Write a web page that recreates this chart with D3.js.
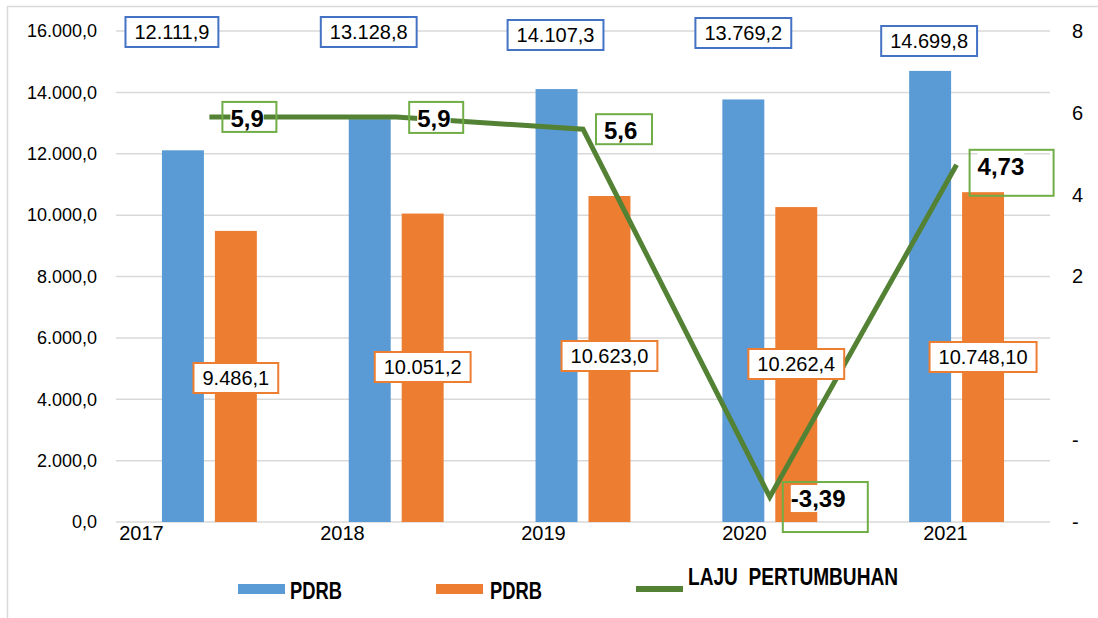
<!DOCTYPE html>
<html>
<head>
<meta charset="utf-8">
<script src="https://cdn.jsdelivr.net/npm/d3@7"></script>
<style>
  body { margin: 0; background: #fff; }
  svg { display: block; font-family: "Liberation Sans", Arial, sans-serif; }
</style>
</head>
<body>
<script>
// data
var years = ["2017", "2018", "2019", "2020", "2021"];
var pdrbA = [12111.9, 13128.8, 14107.3, 13769.2, 14699.8];
var pdrbB = [9486.1, 10051.2, 10623.0, 10262.4, 10748.10];
var growth = [5.9, 5.9, 5.6, -3.39, 4.73];
var pdrbALabels = ["12.111,9", "13.128,8", "14.107,3", "13.769,2", "14.699,8"];
var pdrbBLabels = ["9.486,1", "10.051,2", "10.623,0", "10.262,4", "10.748,10"];
var growthLabels = ["5,9", "5,9", "5,6", "-3,39", "4,73"];
var leftTicks = [0, 2000, 4000, 6000, 8000, 10000, 12000, 14000, 16000];
var rightTicks = [-4, -2, 0, 2, 4, 6, 8];
var rightTickLabels = ["-", "-", "", "2", "4", "6", "8"];
var legendNames = ["PDRB", "PDRB", "LAJU  PERTUMBUHAN"];

// label placement (hand placed in the original)
var pdrbALabelTop = [17, 17, 20, 18, 26];
var pdrbALabelShift = [-11, -1, -1, 0, -1];
var pdrbBLabelTop = [363, 352, 341, 349, 342];
var growthBoxSize = [[54, 30], [54, 31], [56, 30], [85, 50], [84, 46]];

var W = 1098, H = 618;
var blue = "#5B9BD5", orange = "#ED7D31", green = "#548235", greenBox = "#70AD47", blueBox = "#4472C4";

var svg = d3.select("body").append("svg")
	.attr("width", W)
	.attr("height", H);

// chart border (only top and left fall inside the frame)
svg.append("rect")
	.attr("x", 7.5).attr("y", 6.5)
	.attr("width", W).attr("height", H)
	.attr("fill", "none")
	.attr("stroke", "#D9D9D9")
	.attr("stroke-width", 1.5);

var x0 = d3.scaleBand().domain(years).range([116, 1050]);
var x1 = d3.scaleBand().domain(["a", "b"])
	.range([x0.bandwidth() * 0.246, x0.bandwidth() * 0.754])
	.paddingInner(0.2075);
var xLab = d3.scalePoint().domain(years).range([141, 945]);
var yL = d3.scaleLinear().domain([0, 16000]).range([522, 31]);
var yR = d3.scaleLinear().domain([-4, 8]).range([522, 31]);

var locale = d3.formatLocale({decimal: ",", thousands: ".", grouping: [3], currency: ["", ""]});
var fmt = locale.format(",.1f");

// gridlines
svg.append("g")
	.selectAll("line")
	.data(leftTicks)
	.enter()
	.append("line")
	.attr("x1", 116).attr("x2", 1050)
	.attr("y1", function(d) { return yL(d); })
	.attr("y2", function(d) { return yL(d); })
	.attr("stroke", "#D9D9D9")
	.attr("stroke-width", 1.5);

// left axis
var axL = svg.append("g")
	.attr("transform", "translate(116,0)")
	.call(d3.axisLeft(yL).tickValues(leftTicks).tickFormat(fmt).tickSize(0).tickPadding(19));
axL.select(".domain").remove();
axL.selectAll("text").attr("font-size", 18).attr("fill", "#000").attr("font-family", "Liberation Sans, Arial");

// right axis
var axR = svg.append("g")
	.attr("transform", "translate(1050,0)")
	.call(d3.axisRight(yR).tickValues(rightTicks)
		.tickFormat(function(d, i) { return rightTickLabels[i]; })
		.tickSize(0).tickPadding(22));
axR.select(".domain").remove();
axR.selectAll("text").attr("font-size", 20).attr("fill", "#000").attr("font-family", "Liberation Sans, Arial");

// x axis labels
var axX = svg.append("g")
	.attr("transform", "translate(0,522)")
	.call(d3.axisBottom(xLab).tickSize(0).tickPadding(4));
axX.select(".domain").remove();
axX.selectAll("text").attr("font-size", 20).attr("fill", "#000").attr("font-family", "Liberation Sans, Arial");

// bars
var groups = svg.append("g")
	.selectAll("g")
	.data(years)
	.enter()
	.append("g")
	.attr("transform", function(d) { return "translate(" + x0(d) + ",0)"; });

groups.append("rect")
	.attr("x", x1("a"))
	.attr("width", x1.bandwidth())
	.attr("y", function(d, i) { return yL(pdrbA[i]); })
	.attr("height", function(d, i) { return yL(0) - yL(pdrbA[i]); })
	.attr("fill", blue);

groups.append("rect")
	.attr("x", x1("b"))
	.attr("width", x1.bandwidth())
	.attr("y", function(d, i) { return yL(pdrbB[i]); })
	.attr("height", function(d, i) { return yL(0) - yL(pdrbB[i]); })
	.attr("fill", orange);

// growth line
var line = d3.line()
	.x(function(d, i) { return x0(years[i]) + x0.bandwidth() / 2; })
	.y(function(d) { return yR(d); });

svg.append("path")
	.datum(growth)
	.attr("d", line)
	.attr("fill", "none")
	.attr("stroke", green)
	.attr("stroke-width", 5);

// value labels with boxes, centred on the bar
function centredLabel(cx, top, text, stroke) {
	var g = svg.append("g");
	var box = g.append("rect");
	var t = g.append("text")
		.attr("x", cx)
		.attr("y", top + 22)
		.attr("text-anchor", "middle")
		.attr("font-size", 20)
		.attr("fill", "#000")
		.text(text);
	var w = t.node().getComputedTextLength() + 18;
	box.attr("x", cx - w / 2).attr("y", top)
		.attr("width", w).attr("height", 30)
		.attr("fill", "#fff")
		.attr("stroke", stroke)
		.attr("stroke-width", 2);
}

years.forEach(function(y, i) {
	centredLabel(x0(y) + x1("a") + x1.bandwidth() / 2 + pdrbALabelShift[i], pdrbALabelTop[i], pdrbALabels[i], blueBox);
	centredLabel(x0(y) + x1("b") + x1.bandwidth() / 2, pdrbBLabelTop[i], pdrbBLabels[i], orange);
});

// growth labels, placed to the lower right of each point
years.forEach(function(y, i) {
	var px = x0(y) + x0.bandwidth() / 2 + 13;
	var py = yR(growth[i]) - 15;
	var g = svg.append("g");
	var bg = g.append("rect").attr("fill", "#fff");
	var t = g.append("text")
		.attr("x", px + 8)
		.attr("y", py + 25)
		.attr("font-size", 24)
		.attr("font-weight", "bold")
		.attr("fill", "#000")
		.text(growthLabels[i]);
	var bb = t.node().getBBox();
	bg.attr("x", bb.x).attr("y", bb.y).attr("width", bb.width).attr("height", bb.height);
	g.append("rect")
		.attr("x", px).attr("y", py)
		.attr("width", growthBoxSize[i][0]).attr("height", growthBoxSize[i][1])
		.attr("fill", "none")
		.attr("stroke", greenBox)
		.attr("stroke-width", 2);
});

// legend
var legend = svg.append("g");
var legX = [238, 436, 636];
legend.append("rect").attr("x", legX[0]).attr("y", 584).attr("width", 47).attr("height", 10).attr("fill", blue);
legend.append("rect").attr("x", legX[1]).attr("y", 584).attr("width", 47).attr("height", 10).attr("fill", orange);
legend.append("rect").attr("x", legX[2]).attr("y", 586).attr("width", 47).attr("height", 6).attr("fill", green);

var legText = [[290, 599, 52], [490, 599, 52], [688, 585, 210]];
legendNames.forEach(function(name, i) {
	legend.append("text")
		.attr("x", legText[i][0])
		.attr("y", legText[i][1])
		.attr("font-size", 23)
		.attr("font-weight", "bold")
		.attr("font-family", "'Liberation Sans Narrow', 'Liberation Sans', Arial")
		.attr("textLength", legText[i][2])
		.attr("lengthAdjust", "spacingAndGlyphs")
		.style("white-space", "pre")
		.attr("fill", "#000")
		.text(name);
});
</script>
</body>
</html>
